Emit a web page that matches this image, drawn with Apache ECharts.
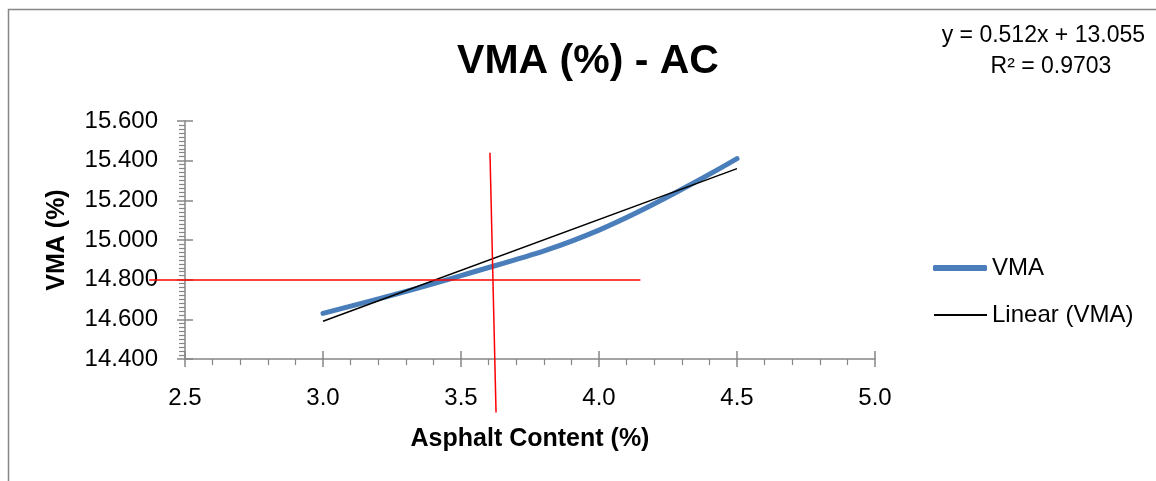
<!DOCTYPE html>
<html lang="en" style="height: 100%">
<head>
  <meta charset="UTF-8" />
  <title>VMA (%) - AC</title>
  <script src="https://cdn.jsdelivr.net/npm/echarts@6.0.0/dist/echarts.min.js"></script>
  <style>
    html, body { height: 100%; margin: 0; background: #fff; }
    #chart { width: 1156px; height: 481px; }
  </style>
</head>
<body>
  <div id="chart"></div>
  <script>
    // values
    const acX = [3.0, 3.5, 4.0, 4.5];
    const vma = [14.63, 14.82, 15.05, 15.41];
    const trendX = [3.0, 4.5];
    const trendY = [14.59, 15.36];
    // hand-drawn red guide lines
    const guideH = [[2.37, 14.80], [4.15, 14.80]];
    const guideV = [[3.605, 15.44], [3.627, 14.13]];

    const FONT = 'Liberation Sans';
    const AXIS_GREY = '#868686';

    const chart = echarts.init(document.getElementById('chart'));

    const legendText = { fontFamily: FONT, fontSize: 24, color: '#000' };

    chart.setOption({
      backgroundColor: '#fff',
      animation: false,
      textStyle: { fontFamily: FONT },
      graphic: [{
        type: 'rect',
        shape: { x: 8.5, y: 9.5, width: 1300, height: 600 },
        style: { fill: 'none', stroke: AXIS_GREY, lineWidth: 1.5 }
      }],
      title: [
        {
          text: 'VMA (%) - AC',
          left: 583, top: 36, textAlign: 'center',
          textStyle: { fontFamily: FONT, fontSize: 41, fontWeight: 'bold', color: '#000' }
        },
        {
          text: 'y = 0.512x + 13.055',
          right: 6, top: 19,
          textStyle: { fontFamily: FONT, fontSize: 23, fontWeight: 'normal', color: '#000' }
        },
        {
          text: 'R² = 0.9703',
          left: 1046, top: 50, textAlign: 'center',
          textStyle: { fontFamily: FONT, fontSize: 23, fontWeight: 'normal', color: '#000' }
        }
      ],
      legend: [
        {
          left: 933, top: 256, padding: 0,
          icon: 'roundRect', itemWidth: 54, itemHeight: 6,
          data: ['VMA'],
          textStyle: legendText
        },
        {
          left: 934, top: 303, padding: 0,
          icon: 'rect', itemWidth: 53, itemHeight: 2,
          data: ['Linear (VMA)'],
          textStyle: legendText
        }
      ],
      grid: { left: 185, right: 281, top: 121, bottom: 122 },
      xAxis: [{
        type: 'value', min: 2.5, max: 5.0, interval: 0.5,
        name: 'Asphalt Content (%)', nameLocation: 'middle', nameGap: 68,
        nameTextStyle: { fontFamily: FONT, fontSize: 25, fontWeight: 'bold', color: '#000' },
        axisLine: { lineStyle: { color: AXIS_GREY, width: 1.5 } },
        axisTick: { show: true, length: 8, lineStyle: { color: AXIS_GREY, width: 1.5 } },
        minorTick: { show: true, splitNumber: 5, length: 6, lineStyle: { color: AXIS_GREY, width: 1.2 } },
        axisLabel: { margin: 27, fontSize: 24, color: '#000', formatter: v => v.toFixed(1) },
        splitLine: { show: false }
      }, {
        // inner half of the major ticks
        type: 'value', min: 2.5, max: 5.0, interval: 0.5, position: 'bottom', offset: 0,
        axisLine: { show: false },
        axisTick: { show: true, inside: true, length: 8, lineStyle: { color: AXIS_GREY, width: 1.5 } },
        axisLabel: { show: false },
        splitLine: { show: false }
      }],
      yAxis: [{
        type: 'value', min: 14.4, max: 15.6, interval: 0.2,
        name: 'VMA (%)', nameLocation: 'middle', nameGap: 115,
        nameTextStyle: { fontFamily: FONT, fontSize: 25, fontWeight: 'bold', color: '#000' },
        axisLine: { show: true, lineStyle: { color: AXIS_GREY, width: 1.5 } },
        axisTick: { show: true, length: 8, lineStyle: { color: AXIS_GREY, width: 1.5 } },
        minorTick: { show: true, splitNumber: 10, length: 6, lineStyle: { color: AXIS_GREY, width: 1.2 } },
        axisLabel: { margin: 27, fontSize: 24, color: '#000', formatter: v => v.toFixed(3) },
        splitLine: { show: false }
      }, {
        type: 'value', min: 14.4, max: 15.6, interval: 0.2, position: 'left', offset: 0,
        axisLine: { show: false },
        axisTick: { show: true, inside: true, length: 8, lineStyle: { color: AXIS_GREY, width: 1.5 } },
        axisLabel: { show: false },
        splitLine: { show: false }
      }],
      series: [
        {
          name: 'VMA',
          type: 'line',
          smooth: 0.4,
          symbol: 'none',
          lineStyle: { color: '#4a7ebb', width: 5, cap: 'round' },
          itemStyle: { color: '#4a7ebb' },
          data: acX.map((x, i) => [x, vma[i]]),
          z: 2
        },
        {
          name: 'Linear (VMA)',
          type: 'line',
          symbol: 'none',
          lineStyle: { color: '#000', width: 1.5 },
          itemStyle: { color: '#000' },
          data: trendX.map((x, i) => [x, trendY[i]]),
          z: 3
        },
        {
          name: 'guides',
          type: 'lines',
          coordinateSystem: 'cartesian2d',
          clip: false,
          silent: true,
          lineStyle: { color: '#ff0000', width: 1.5, opacity: 1 },
          data: [{ coords: guideH }, { coords: guideV }],
          z: 4
        }
      ]
    });
  </script>
</body>
</html>
